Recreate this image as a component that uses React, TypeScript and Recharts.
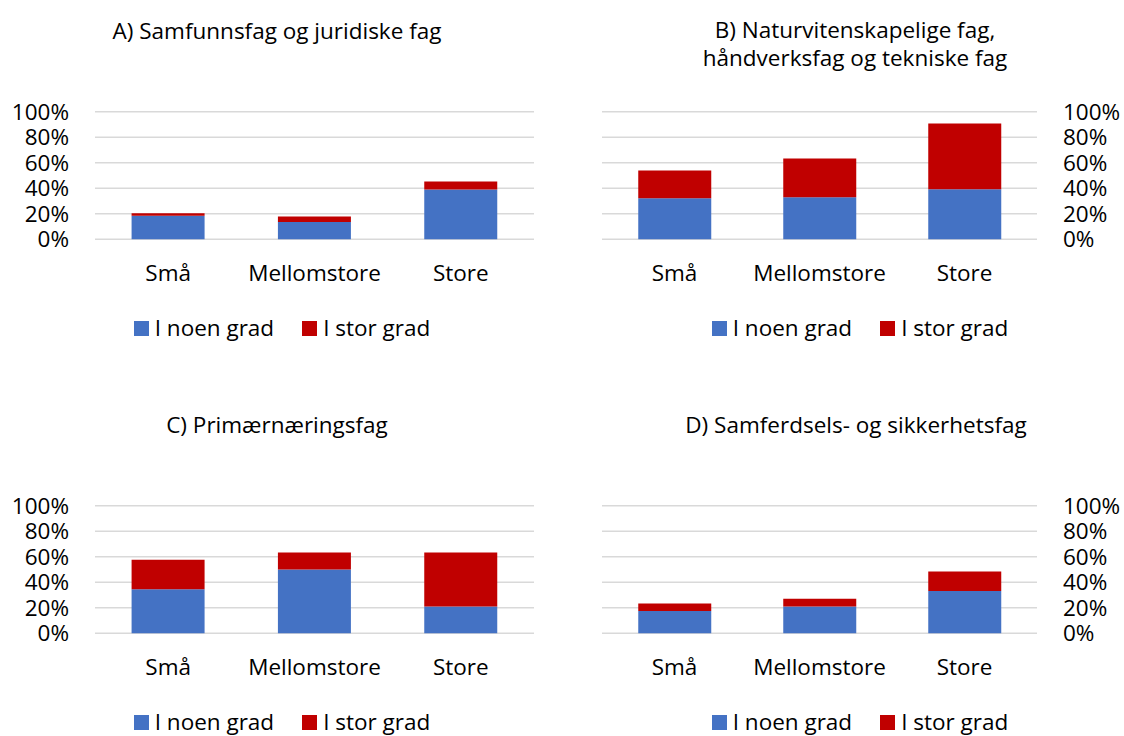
import React from "react"
import { BarChart, Bar, XAxis, YAxis, CartesianGrid, Legend } from "recharts"

const sizeLabels = ["Små", "Mellomstore", "Store"]
const seriesNames = ["I noen grad", "I stor grad"]
const seriesColors = ["#4472C4", "#C00000"]
const percentTicks = [0, 20, 40, 60, 80, 100]

// A) Samfunnsfag og juridiske fag
const samfunnNoen = [18.4, 13.5, 39.0]
const samfunnStor = [2.1, 4.4, 6.2]

// B) Naturvitenskapelige fag, håndverksfag og tekniske fag
const naturNoen = [32.2, 33.0, 39.2]
const naturStor = [21.8, 30.3, 51.5]

// C) Primærnæringsfag
const primaerNoen = [34.6, 50.0, 21.1]
const primaerStor = [23.0, 13.3, 42.2]

// D) Samferdsels- og sikkerhetsfag
const samferdselNoen = [17.4, 21.1, 33.1]
const samferdselStor = [6.0, 6.0, 15.3]

const FONT = "'Open Sans', Lato, sans-serif"

const buildRows = (noen: number[], stor: number[]) =>
  sizeLabels.map((label, i) => ({ label, noen: noen[i], stor: stor[i] }))

const LegendContent = ({ payload }: any) => (
  <div style={{ display: "flex", justifyContent: "center", fontFamily: FONT, fontSize: 22.5, lineHeight: "28px", color: "#000" }}>
    {(payload || []).map((entry: any, i: number) => (
      <div key={`leg-${i}`} style={{ marginLeft: i === 0 ? 0 : 28, whiteSpace: "nowrap" }}>
        <span style={{ display: "inline-block", width: 15, height: 15, background: entry.color, marginRight: 6 }} />
        {entry.value}
      </div>
    ))}
  </div>
)

interface PanelProps {
  titleLines: string[]
  noen: number[]
  stor: number[]
  side: "left" | "right"
  left: number
  top: number
  titleCenter: number
  legendCenter: number
}

function Panel({ titleLines, noen, stor, side, left, top, titleCenter, legendCenter }: PanelProps) {
  const data = buildRows(noen, stor)
  const isLeft = side === "left"
  const tickStyle = { fontFamily: FONT, fontSize: 22.5, fill: "#000" }

  return (
    <div style={{ position: "absolute", left, top, width: 562, height: 360 }}>
      <div
        style={{
          position: "absolute",
          left: titleCenter - left - 260,
          width: 520,
          top: titleLines.length > 1 ? 16 : 17,
          textAlign: "center",
          fontFamily: FONT,
          fontSize: 22.5,
          lineHeight: "28px",
          color: "#000",
        }}
      >
        {titleLines.map((t) => (
          <div key={t}>{t}</div>
        ))}
      </div>
      <BarChart
        width={562}
        height={360}
        data={data}
        barCategoryGap="25%"
        margin={{ top: 111.7, bottom: 60.7, left: isLeft ? 0 : 40, right: isLeft ? 28 : 0 }}
      >
        <CartesianGrid vertical={false} stroke="#d9d9d9" strokeWidth={1.6} />
        <XAxis
          dataKey="label"
          axisLine={false}
          tickLine={false}
          tickSize={0}
          tickMargin={26}
          height={60}
          tick={tickStyle}
          interval={0}
        />
        <YAxis
          orientation={side}
          width={isLeft ? 95 : 87}
          domain={[0, 100]}
          ticks={percentTicks}
          tickFormatter={(v) => `${v}%`}
          axisLine={false}
          tickLine={false}
          tickSize={0}
          tickMargin={26}
          tick={tickStyle}
          interval={0}
        />
        <Legend
          layout="horizontal"
          verticalAlign="middle"
          align="center"
          content={<LegendContent />}
          wrapperStyle={{ top: 314, left: legendCenter - left - 200, width: 400 }}
        />
        <Bar dataKey="noen" name={seriesNames[0]} stackId="a" fill={seriesColors[0]} isAnimationActive={false} />
        <Bar dataKey="stor" name={seriesNames[1]} stackId="a" fill={seriesColors[1]} isAnimationActive={false} />
      </BarChart>
    </div>
  )
}

export default function App() {
  return (
    <div style={{ position: "absolute", left: 0, top: 0, width: 1124, height: 736, background: "#fff" }}>
      <Panel
        titleLines={["A) Samfunnsfag og juridiske fag"]}
        noen={samfunnNoen}
        stor={samfunnStor}
        side="left"
        left={0}
        top={0}
        titleCenter={277}
        legendCenter={282}
      />
      <Panel
        titleLines={["B) Naturvitenskapelige fag,", "håndverksfag og tekniske fag"]}
        noen={naturNoen}
        stor={naturStor}
        side="right"
        left={562}
        top={0}
        titleCenter={855}
        legendCenter={860}
      />
      <Panel
        titleLines={["C) Primærnæringsfag"]}
        noen={primaerNoen}
        stor={primaerStor}
        side="left"
        left={0}
        top={394}
        titleCenter={277}
        legendCenter={282}
      />
      <Panel
        titleLines={["D) Samferdsels- og sikkerhetsfag"]}
        noen={samferdselNoen}
        stor={samferdselStor}
        side="right"
        left={562}
        top={394}
        titleCenter={856}
        legendCenter={860}
      />
    </div>
  )
}
